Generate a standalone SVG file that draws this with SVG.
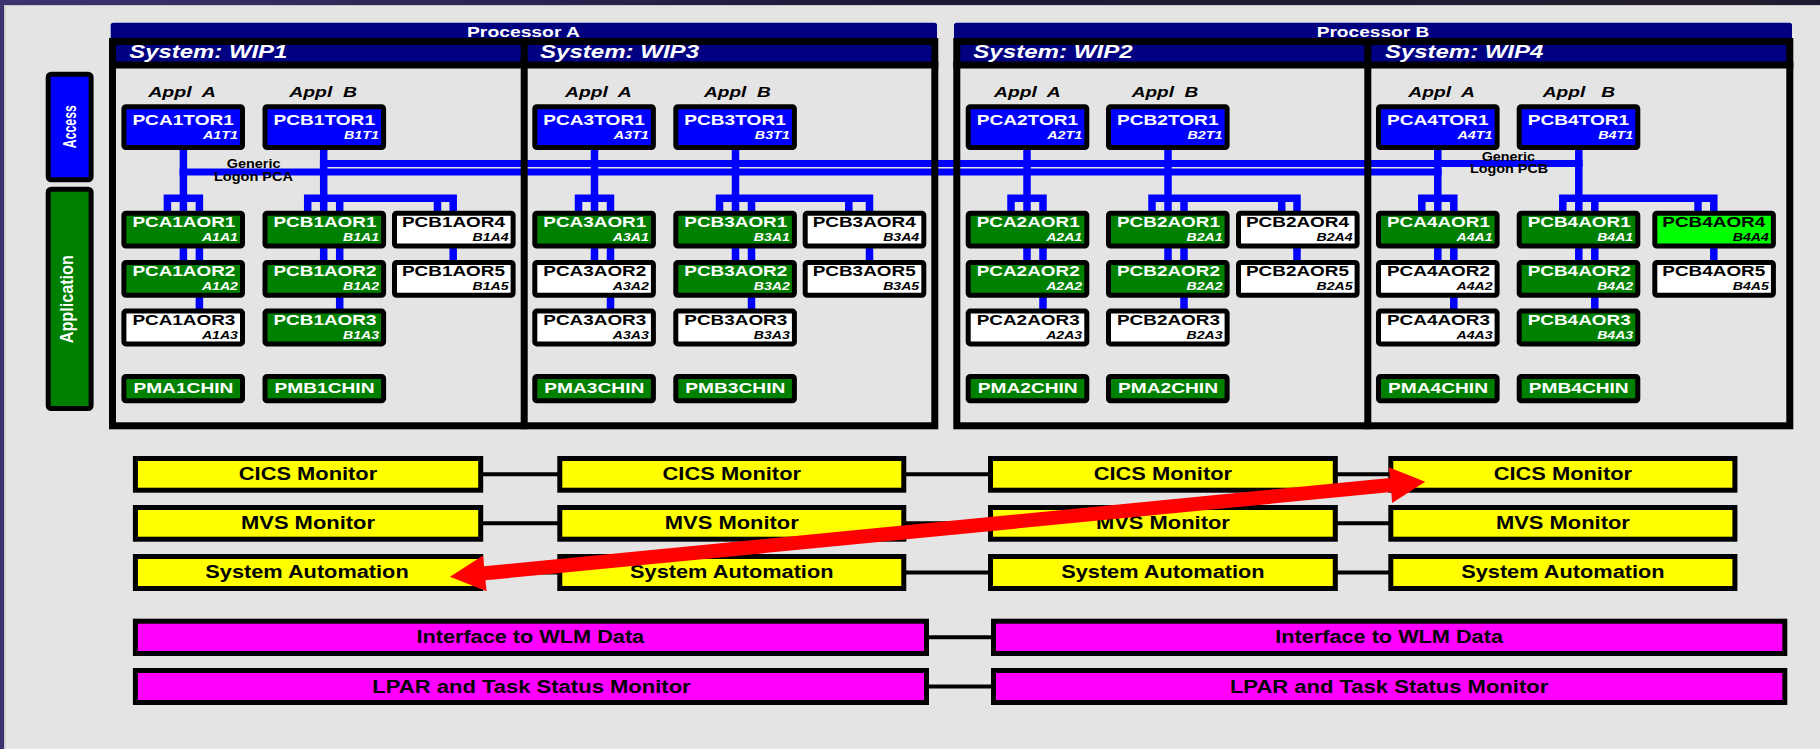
<svg xmlns="http://www.w3.org/2000/svg" width="1820" height="749" viewBox="0 0 1820 749">
  <defs>
    <linearGradient id="bgGrad" x1="0" y1="0" x2="1" y2="0">
      <stop offset="0" stop-color="#3b3470"/>
      <stop offset="0.5" stop-color="#1b1836"/>
      <stop offset="0.95" stop-color="#241d2e"/>
      <stop offset="1" stop-color="#1c1a30"/>
    </linearGradient>
    <style>
      .box{stroke:#000;stroke-width:5}
      .blue{fill:#0000FF}
      .green{fill:#008000}
      .white{fill:#FFFFFF}
      .lime{fill:#00FF00}
      .yellow{fill:#FFFF00}
      .magenta{fill:#FF00FF}
      .navy{fill:#000080}
      .t{font-family:"Liberation Sans",Arial,Helvetica,sans-serif;font-weight:bold}
      .nm{font-size:15px}
      .sub{font-size:11px;font-style:italic;text-anchor:end}
      .w{fill:#FFFFFF}
      .k{fill:#000000}
      .ttl{font-size:14px;fill:#FFFFFF}
      .sys{font-size:17.5px;font-style:italic;fill:#FFFFFF}
      .appl{font-size:14px;font-style:italic;fill:#000;white-space:pre}
      .gen{font-size:12px;fill:#000;text-anchor:middle}
      .mon{font-size:17.5px;fill:#000;text-anchor:middle}
      .bus{fill:none;stroke:#0000FF;stroke-width:7}
      .link{fill:none;stroke:#0000FF;stroke-width:7.5}
      .wire{fill:none;stroke:#000;stroke-width:4}
      .frame{fill:none;stroke:#000;stroke-width:7}
    </style>
  </defs>

  <!-- backdrop and panel -->
  <rect x="0" y="0" width="1820" height="749" fill="url(#bgGrad)"/>
  <rect x="4" y="5" width="1816" height="744" fill="#C8C8C8"/>
  <rect x="5.5" y="6" width="1814.5" height="743" fill="#E4E4E4"/>

  <!-- layer bars -->
  <g id="layer-access">
    <rect class="box blue" x="48.2" y="74.2" width="42.9" height="105.6" rx="3"/>
    <text class="t w" font-size="18" text-anchor="middle" transform="translate(75.7,126.7) rotate(-90)" textLength="43" lengthAdjust="spacingAndGlyphs">Access</text>
  </g>
  <g id="layer-application">
    <rect class="box green" x="48.2" y="189.2" width="42.9" height="219.3" rx="3"/>
    <text class="t w" font-size="19" text-anchor="middle" transform="translate(72.5,299.2) rotate(-90)" textLength="88" lengthAdjust="spacingAndGlyphs">Application</text>
  </g>

  <!-- processor title bars and system headers -->
  <g id="processor-a">
    <rect class="navy" x="110.7" y="22.7" width="826.3" height="22" rx="2.5"/>
    <text class="t ttl" x="467" y="37" textLength="113" lengthAdjust="spacingAndGlyphs">Processor A</text>
    <rect class="navy" x="112" y="44" width="822" height="18"/>
  </g>
  <g id="processor-b">
    <rect class="navy" x="954" y="22.7" width="838" height="22" rx="2.5"/>
    <text class="t ttl" x="1316.7" y="37" textLength="112.6" lengthAdjust="spacingAndGlyphs">Processor B</text>
    <rect class="navy" x="956" y="44" width="834" height="18"/>
  </g>

  <!-- blue links: logon buses and TOR to AOR fan-outs -->
  <g id="connectors">
    <path class="bus" d="M179.6 172.1 H1441.6"/>
    <path class="bus" d="M319.9 163.4 H1582.6"/>

    <path class="link" d="M183.4 150 V262 M167.4 213 V198.3 H199.4 V311"/>
    <path class="link" d="M323.7 150 V262 M307.7 213 V198.3 H453.2 V262 M339.7 198.3 V311 M437.5 198.3 V213"/>

    <path class="link" d="M594.5 150 V262 M578.5 213 V198.3 H610.5 V311"/>
    <path class="link" d="M735.5 150 V262 M719.5 213 V198.3 H869.5 V262 M751.5 198.3 V311 M848.8 198.3 V213"/>

    <path class="link" d="M1027 150 V262 M1011 213 V198.3 H1043 V311"/>
    <path class="link" d="M1168 150 V262 M1152 213 V198.3 H1297 V262 M1184 198.3 V311 M1281.7 198.3 V213"/>

    <path class="link" d="M1437.8 150 V262 M1421.8 213 V198.3 H1453.8 V311"/>
    <path class="link" d="M1578.8 150 V262 M1562.8 213 V198.3 H1713.8 V262 M1594.8 198.3 V311 M1698 198.3 V213"/>

    <!-- monitor links -->
    <path class="wire" d="M483 474.3 H558 M906 474.3 H989 M1337 474.3 H1389"/>
    <path class="wire" d="M483 523.3 H558 M906 523.3 H989 M1337 523.3 H1389"/>
    <path class="wire" d="M483 572.5 H558 M906 572.5 H989 M1337 572.5 H1389"/>
    <path class="wire" d="M929 637.3 H992 M929 686.5 H992"/>
  </g>

  <!-- system frames -->
  <g id="frames">
    <rect class="frame" x="112.5" y="41.5" width="822.3" height="384.3"/>
    <path class="frame" d="M524.2 38 V429.3 M109 65 H938.3"/>
    <rect class="frame" x="956.8" y="41.5" width="833" height="384.3"/>
    <path class="frame" d="M1367.8 38 V429.3 M953.3 65 H1793.3"/>
  </g>

  <!-- System WIP1 -->
  <g id="sys-wip1">
    <text class="t sys" x="129.3" y="58.4" textLength="158" lengthAdjust="spacingAndGlyphs">System: WIP1</text>
    <text class="t appl" x="148.2" y="96.5" textLength="67.8" lengthAdjust="spacingAndGlyphs">Appl  A</text>
    <text class="t appl" x="289.3" y="96.5" textLength="67.8" lengthAdjust="spacingAndGlyphs">Appl  B</text>
    <text class="t gen" x="253.6" y="168" textLength="53.6" lengthAdjust="spacingAndGlyphs">Generic</text>
    <text class="t gen" x="253.5" y="180.5" textLength="79" lengthAdjust="spacingAndGlyphs">Logon PCA</text>
  </g>
  <g id="PCA1TOR1"><rect class="box blue" x="123.9" y="106.8" width="118.6" height="40.7" rx="2"/><text class="t nm w" x="132.4" y="125" textLength="101.5" lengthAdjust="spacingAndGlyphs">PCA1TOR1</text><text class="t sub w" x="237.9" y="139" textLength="35" lengthAdjust="spacingAndGlyphs">A1T1</text></g>
  <g id="PCB1TOR1"><rect class="box blue" x="265" y="106.8" width="118.6" height="40.7" rx="2"/><text class="t nm w" x="273.5" y="125" textLength="101.5" lengthAdjust="spacingAndGlyphs">PCB1TOR1</text><text class="t sub w" x="379" y="139" textLength="35" lengthAdjust="spacingAndGlyphs">B1T1</text></g>
  <g id="PCA1AOR1"><rect class="box green" x="123.9" y="213.2" width="118.6" height="32.8" rx="2"/><text class="t nm w" x="132.4" y="226.7" textLength="103" lengthAdjust="spacingAndGlyphs">PCA1AOR1</text><text class="t sub w" x="237.9" y="241" textLength="36" lengthAdjust="spacingAndGlyphs">A1A1</text></g>
  <g id="PCB1AOR1"><rect class="box green" x="265" y="213.2" width="118.6" height="32.8" rx="2"/><text class="t nm w" x="273.5" y="226.7" textLength="103" lengthAdjust="spacingAndGlyphs">PCB1AOR1</text><text class="t sub w" x="379" y="241" textLength="36" lengthAdjust="spacingAndGlyphs">B1A1</text></g>
  <g id="PCB1AOR4"><rect class="box white" x="394.5" y="213.2" width="118.6" height="32.8" rx="2"/><text class="t nm k" x="402" y="226.7" textLength="103" lengthAdjust="spacingAndGlyphs">PCB1AOR4</text><text class="t sub k" x="508.5" y="241" textLength="36" lengthAdjust="spacingAndGlyphs">B1A4</text></g>
  <g id="PCA1AOR2"><rect class="box green" x="123.9" y="262.4" width="118.6" height="32.8" rx="2"/><text class="t nm w" x="132.4" y="275.9" textLength="103" lengthAdjust="spacingAndGlyphs">PCA1AOR2</text><text class="t sub w" x="237.9" y="290.2" textLength="36" lengthAdjust="spacingAndGlyphs">A1A2</text></g>
  <g id="PCB1AOR2"><rect class="box green" x="265" y="262.4" width="118.6" height="32.8" rx="2"/><text class="t nm w" x="273.5" y="275.9" textLength="103" lengthAdjust="spacingAndGlyphs">PCB1AOR2</text><text class="t sub w" x="379" y="290.2" textLength="36" lengthAdjust="spacingAndGlyphs">B1A2</text></g>
  <g id="PCB1AOR5"><rect class="box white" x="394.5" y="262.4" width="118.6" height="32.8" rx="2"/><text class="t nm k" x="402" y="275.9" textLength="103" lengthAdjust="spacingAndGlyphs">PCB1AOR5</text><text class="t sub k" x="508.5" y="290.2" textLength="36" lengthAdjust="spacingAndGlyphs">B1A5</text></g>
  <g id="PCA1AOR3"><rect class="box white" x="123.9" y="311.1" width="118.6" height="32.8" rx="2"/><text class="t nm k" x="132.4" y="324.6" textLength="103" lengthAdjust="spacingAndGlyphs">PCA1AOR3</text><text class="t sub k" x="237.9" y="338.9" textLength="36" lengthAdjust="spacingAndGlyphs">A1A3</text></g>
  <g id="PCB1AOR3"><rect class="box green" x="265" y="311.1" width="118.6" height="32.8" rx="2"/><text class="t nm w" x="273.5" y="324.6" textLength="103" lengthAdjust="spacingAndGlyphs">PCB1AOR3</text><text class="t sub w" x="379" y="338.9" textLength="36" lengthAdjust="spacingAndGlyphs">B1A3</text></g>
  <g id="PMA1CHIN"><rect class="box green" x="123.9" y="376.5" width="118.6" height="24.3" rx="2"/><text class="t nm w" x="133.4" y="393.3" textLength="100" lengthAdjust="spacingAndGlyphs">PMA1CHIN</text></g>
  <g id="PMB1CHIN"><rect class="box green" x="265" y="376.5" width="118.6" height="24.3" rx="2"/><text class="t nm w" x="274.5" y="393.3" textLength="100" lengthAdjust="spacingAndGlyphs">PMB1CHIN</text></g>

  <!-- System WIP3 -->
  <g id="sys-wip3">
    <text class="t sys" x="540" y="58.4" textLength="159" lengthAdjust="spacingAndGlyphs">System: WIP3</text>
    <text class="t appl" x="565" y="96.5" textLength="66.7" lengthAdjust="spacingAndGlyphs">Appl  A</text>
    <text class="t appl" x="704" y="96.5" textLength="66.7" lengthAdjust="spacingAndGlyphs">Appl  B</text>
  </g>
  <g id="PCA3TOR1"><rect class="box blue" x="534.8" y="106.8" width="118.6" height="40.7" rx="2"/><text class="t nm w" x="543.3" y="125" textLength="101.5" lengthAdjust="spacingAndGlyphs">PCA3TOR1</text><text class="t sub w" x="648.8" y="139" textLength="35" lengthAdjust="spacingAndGlyphs">A3T1</text></g>
  <g id="PCB3TOR1"><rect class="box blue" x="675.8" y="106.8" width="118.6" height="40.7" rx="2"/><text class="t nm w" x="684.3" y="125" textLength="101.5" lengthAdjust="spacingAndGlyphs">PCB3TOR1</text><text class="t sub w" x="789.8" y="139" textLength="35" lengthAdjust="spacingAndGlyphs">B3T1</text></g>
  <g id="PCA3AOR1"><rect class="box green" x="534.8" y="213.2" width="118.6" height="32.8" rx="2"/><text class="t nm w" x="543.3" y="226.7" textLength="103" lengthAdjust="spacingAndGlyphs">PCA3AOR1</text><text class="t sub w" x="648.8" y="241" textLength="36" lengthAdjust="spacingAndGlyphs">A3A1</text></g>
  <g id="PCB3AOR1"><rect class="box green" x="675.8" y="213.2" width="118.6" height="32.8" rx="2"/><text class="t nm w" x="684.3" y="226.7" textLength="103" lengthAdjust="spacingAndGlyphs">PCB3AOR1</text><text class="t sub w" x="789.8" y="241" textLength="36" lengthAdjust="spacingAndGlyphs">B3A1</text></g>
  <g id="PCB3AOR4"><rect class="box white" x="805.2" y="213.2" width="118.6" height="32.8" rx="2"/><text class="t nm k" x="812.7" y="226.7" textLength="103" lengthAdjust="spacingAndGlyphs">PCB3AOR4</text><text class="t sub k" x="919.2" y="241" textLength="36" lengthAdjust="spacingAndGlyphs">B3A4</text></g>
  <g id="PCA3AOR2"><rect class="box white" x="534.8" y="262.4" width="118.6" height="32.8" rx="2"/><text class="t nm k" x="543.3" y="275.9" textLength="103" lengthAdjust="spacingAndGlyphs">PCA3AOR2</text><text class="t sub k" x="648.8" y="290.2" textLength="36" lengthAdjust="spacingAndGlyphs">A3A2</text></g>
  <g id="PCB3AOR2"><rect class="box green" x="675.8" y="262.4" width="118.6" height="32.8" rx="2"/><text class="t nm w" x="684.3" y="275.9" textLength="103" lengthAdjust="spacingAndGlyphs">PCB3AOR2</text><text class="t sub w" x="789.8" y="290.2" textLength="36" lengthAdjust="spacingAndGlyphs">B3A2</text></g>
  <g id="PCB3AOR5"><rect class="box white" x="805.2" y="262.4" width="118.6" height="32.8" rx="2"/><text class="t nm k" x="812.7" y="275.9" textLength="103" lengthAdjust="spacingAndGlyphs">PCB3AOR5</text><text class="t sub k" x="919.2" y="290.2" textLength="36" lengthAdjust="spacingAndGlyphs">B3A5</text></g>
  <g id="PCA3AOR3"><rect class="box white" x="534.8" y="311.1" width="118.6" height="32.8" rx="2"/><text class="t nm k" x="543.3" y="324.6" textLength="103" lengthAdjust="spacingAndGlyphs">PCA3AOR3</text><text class="t sub k" x="648.8" y="338.9" textLength="36" lengthAdjust="spacingAndGlyphs">A3A3</text></g>
  <g id="PCB3AOR3"><rect class="box white" x="675.8" y="311.1" width="118.6" height="32.8" rx="2"/><text class="t nm k" x="684.3" y="324.6" textLength="103" lengthAdjust="spacingAndGlyphs">PCB3AOR3</text><text class="t sub k" x="789.8" y="338.9" textLength="36" lengthAdjust="spacingAndGlyphs">B3A3</text></g>
  <g id="PMA3CHIN"><rect class="box green" x="534.8" y="376.5" width="118.6" height="24.3" rx="2"/><text class="t nm w" x="544.3" y="393.3" textLength="100" lengthAdjust="spacingAndGlyphs">PMA3CHIN</text></g>
  <g id="PMB3CHIN"><rect class="box green" x="675.8" y="376.5" width="118.6" height="24.3" rx="2"/><text class="t nm w" x="685.3" y="393.3" textLength="100" lengthAdjust="spacingAndGlyphs">PMB3CHIN</text></g>

  <!-- System WIP2 -->
  <g id="sys-wip2">
    <text class="t sys" x="973.3" y="58.4" textLength="159.4" lengthAdjust="spacingAndGlyphs">System: WIP2</text>
    <text class="t appl" x="994" y="96.5" textLength="66.7" lengthAdjust="spacingAndGlyphs">Appl  A</text>
    <text class="t appl" x="1131.7" y="96.5" textLength="66.6" lengthAdjust="spacingAndGlyphs">Appl  B</text>
  </g>
  <g id="PCA2TOR1"><rect class="box blue" x="968.2" y="106.8" width="118.6" height="40.7" rx="2"/><text class="t nm w" x="976.7" y="125" textLength="101.5" lengthAdjust="spacingAndGlyphs">PCA2TOR1</text><text class="t sub w" x="1082.2" y="139" textLength="35" lengthAdjust="spacingAndGlyphs">A2T1</text></g>
  <g id="PCB2TOR1"><rect class="box blue" x="1108.5" y="106.8" width="118.6" height="40.7" rx="2"/><text class="t nm w" x="1117" y="125" textLength="101.5" lengthAdjust="spacingAndGlyphs">PCB2TOR1</text><text class="t sub w" x="1222.5" y="139" textLength="35" lengthAdjust="spacingAndGlyphs">B2T1</text></g>
  <g id="PCA2AOR1"><rect class="box green" x="968.2" y="213.2" width="118.6" height="32.8" rx="2"/><text class="t nm w" x="976.7" y="226.7" textLength="103" lengthAdjust="spacingAndGlyphs">PCA2AOR1</text><text class="t sub w" x="1082.2" y="241" textLength="36" lengthAdjust="spacingAndGlyphs">A2A1</text></g>
  <g id="PCB2AOR1"><rect class="box green" x="1108.5" y="213.2" width="118.6" height="32.8" rx="2"/><text class="t nm w" x="1117" y="226.7" textLength="103" lengthAdjust="spacingAndGlyphs">PCB2AOR1</text><text class="t sub w" x="1222.5" y="241" textLength="36" lengthAdjust="spacingAndGlyphs">B2A1</text></g>
  <g id="PCB2AOR4"><rect class="box white" x="1238.5" y="213.2" width="118.6" height="32.8" rx="2"/><text class="t nm k" x="1246" y="226.7" textLength="103" lengthAdjust="spacingAndGlyphs">PCB2AOR4</text><text class="t sub k" x="1352.5" y="241" textLength="36" lengthAdjust="spacingAndGlyphs">B2A4</text></g>
  <g id="PCA2AOR2"><rect class="box green" x="968.2" y="262.4" width="118.6" height="32.8" rx="2"/><text class="t nm w" x="976.7" y="275.9" textLength="103" lengthAdjust="spacingAndGlyphs">PCA2AOR2</text><text class="t sub w" x="1082.2" y="290.2" textLength="36" lengthAdjust="spacingAndGlyphs">A2A2</text></g>
  <g id="PCB2AOR2"><rect class="box green" x="1108.5" y="262.4" width="118.6" height="32.8" rx="2"/><text class="t nm w" x="1117" y="275.9" textLength="103" lengthAdjust="spacingAndGlyphs">PCB2AOR2</text><text class="t sub w" x="1222.5" y="290.2" textLength="36" lengthAdjust="spacingAndGlyphs">B2A2</text></g>
  <g id="PCB2AOR5"><rect class="box white" x="1238.5" y="262.4" width="118.6" height="32.8" rx="2"/><text class="t nm k" x="1246" y="275.9" textLength="103" lengthAdjust="spacingAndGlyphs">PCB2AOR5</text><text class="t sub k" x="1352.5" y="290.2" textLength="36" lengthAdjust="spacingAndGlyphs">B2A5</text></g>
  <g id="PCA2AOR3"><rect class="box white" x="968.2" y="311.1" width="118.6" height="32.8" rx="2"/><text class="t nm k" x="976.7" y="324.6" textLength="103" lengthAdjust="spacingAndGlyphs">PCA2AOR3</text><text class="t sub k" x="1082.2" y="338.9" textLength="36" lengthAdjust="spacingAndGlyphs">A2A3</text></g>
  <g id="PCB2AOR3"><rect class="box white" x="1108.5" y="311.1" width="118.6" height="32.8" rx="2"/><text class="t nm k" x="1117" y="324.6" textLength="103" lengthAdjust="spacingAndGlyphs">PCB2AOR3</text><text class="t sub k" x="1222.5" y="338.9" textLength="36" lengthAdjust="spacingAndGlyphs">B2A3</text></g>
  <g id="PMA2CHIN-a"><rect class="box green" x="968.2" y="376.5" width="118.6" height="24.3" rx="2"/><text class="t nm w" x="977.7" y="393.3" textLength="100" lengthAdjust="spacingAndGlyphs">PMA2CHIN</text></g>
  <g id="PMA2CHIN-b"><rect class="box green" x="1108.5" y="376.5" width="118.6" height="24.3" rx="2"/><text class="t nm w" x="1118" y="393.3" textLength="100" lengthAdjust="spacingAndGlyphs">PMA2CHIN</text></g>

  <!-- System WIP4 -->
  <g id="sys-wip4">
    <text class="t sys" x="1385" y="58.4" textLength="158.3" lengthAdjust="spacingAndGlyphs">System: WIP4</text>
    <text class="t appl" x="1408.3" y="96.5" textLength="66.7" lengthAdjust="spacingAndGlyphs">Appl  A</text>
    <text class="t appl" x="1542.7" y="96.5" textLength="72.3" lengthAdjust="spacingAndGlyphs">Appl   B</text>
    <text class="t gen" x="1508.3" y="160.5" textLength="53.3" lengthAdjust="spacingAndGlyphs">Generic</text>
    <text class="t gen" x="1509.1" y="173" textLength="78.3" lengthAdjust="spacingAndGlyphs">Logon PCB</text>
  </g>
  <g id="PCA4TOR1"><rect class="box blue" x="1378.5" y="106.8" width="118.6" height="40.7" rx="2"/><text class="t nm w" x="1387" y="125" textLength="101.5" lengthAdjust="spacingAndGlyphs">PCA4TOR1</text><text class="t sub w" x="1492.5" y="139" textLength="35" lengthAdjust="spacingAndGlyphs">A4T1</text></g>
  <g id="PCB4TOR1"><rect class="box blue" x="1519.2" y="106.8" width="118.6" height="40.7" rx="2"/><text class="t nm w" x="1527.7" y="125" textLength="101.5" lengthAdjust="spacingAndGlyphs">PCB4TOR1</text><text class="t sub w" x="1633.2" y="139" textLength="35" lengthAdjust="spacingAndGlyphs">B4T1</text></g>
  <g id="PCA4AOR1"><rect class="box green" x="1378.5" y="213.2" width="118.6" height="32.8" rx="2"/><text class="t nm w" x="1387" y="226.7" textLength="103" lengthAdjust="spacingAndGlyphs">PCA4AOR1</text><text class="t sub w" x="1492.5" y="241" textLength="36" lengthAdjust="spacingAndGlyphs">A4A1</text></g>
  <g id="PCB4AOR1"><rect class="box green" x="1519.2" y="213.2" width="118.6" height="32.8" rx="2"/><text class="t nm w" x="1527.7" y="226.7" textLength="103" lengthAdjust="spacingAndGlyphs">PCB4AOR1</text><text class="t sub w" x="1633.2" y="241" textLength="36" lengthAdjust="spacingAndGlyphs">B4A1</text></g>
  <g id="PCB4AOR4"><rect class="box lime" x="1654.8" y="213.2" width="118.6" height="32.8" rx="2"/><text class="t nm k" x="1662.3" y="226.7" textLength="103" lengthAdjust="spacingAndGlyphs">PCB4AOR4</text><text class="t sub k" x="1768.8" y="241" textLength="36" lengthAdjust="spacingAndGlyphs">B4A4</text></g>
  <g id="PCA4AOR2"><rect class="box white" x="1378.5" y="262.4" width="118.6" height="32.8" rx="2"/><text class="t nm k" x="1387" y="275.9" textLength="103" lengthAdjust="spacingAndGlyphs">PCA4AOR2</text><text class="t sub k" x="1492.5" y="290.2" textLength="36" lengthAdjust="spacingAndGlyphs">A4A2</text></g>
  <g id="PCB4AOR2"><rect class="box green" x="1519.2" y="262.4" width="118.6" height="32.8" rx="2"/><text class="t nm w" x="1527.7" y="275.9" textLength="103" lengthAdjust="spacingAndGlyphs">PCB4AOR2</text><text class="t sub w" x="1633.2" y="290.2" textLength="36" lengthAdjust="spacingAndGlyphs">B4A2</text></g>
  <g id="PCB4AOR5"><rect class="box white" x="1654.8" y="262.4" width="118.6" height="32.8" rx="2"/><text class="t nm k" x="1662.3" y="275.9" textLength="103" lengthAdjust="spacingAndGlyphs">PCB4AOR5</text><text class="t sub k" x="1768.8" y="290.2" textLength="36" lengthAdjust="spacingAndGlyphs">B4A5</text></g>
  <g id="PCA4AOR3"><rect class="box white" x="1378.5" y="311.1" width="118.6" height="32.8" rx="2"/><text class="t nm k" x="1387" y="324.6" textLength="103" lengthAdjust="spacingAndGlyphs">PCA4AOR3</text><text class="t sub k" x="1492.5" y="338.9" textLength="36" lengthAdjust="spacingAndGlyphs">A4A3</text></g>
  <g id="PCB4AOR3"><rect class="box green" x="1519.2" y="311.1" width="118.6" height="32.8" rx="2"/><text class="t nm w" x="1527.7" y="324.6" textLength="103" lengthAdjust="spacingAndGlyphs">PCB4AOR3</text><text class="t sub w" x="1633.2" y="338.9" textLength="36" lengthAdjust="spacingAndGlyphs">B4A3</text></g>
  <g id="PMA4CHIN"><rect class="box green" x="1378.5" y="376.5" width="118.6" height="24.3" rx="2"/><text class="t nm w" x="1388" y="393.3" textLength="100" lengthAdjust="spacingAndGlyphs">PMA4CHIN</text></g>
  <g id="PMB4CHIN"><rect class="box green" x="1519.2" y="376.5" width="118.6" height="24.3" rx="2"/><text class="t nm w" x="1528.7" y="393.3" textLength="100" lengthAdjust="spacingAndGlyphs">PMB4CHIN</text></g>

  <!-- monitoring layer -->
  <g id="cics-1"><rect class="box yellow" x="135.4" y="458.5" width="345.3" height="31.7"/><text class="t mon" x="308" y="480" textLength="138.4" lengthAdjust="spacingAndGlyphs">CICS Monitor</text></g>
  <g id="cics-2"><rect class="box yellow" x="559.8" y="458.5" width="344" height="31.7"/><text class="t mon" x="731.8" y="480" textLength="138.4" lengthAdjust="spacingAndGlyphs">CICS Monitor</text></g>
  <g id="cics-3"><rect class="box yellow" x="990.5" y="458.5" width="344.8" height="31.7"/><text class="t mon" x="1162.9" y="480" textLength="138.4" lengthAdjust="spacingAndGlyphs">CICS Monitor</text></g>
  <g id="cics-4"><rect class="box yellow" x="1390.8" y="458.5" width="344.1" height="31.7"/><text class="t mon" x="1562.9" y="480" textLength="138.4" lengthAdjust="spacingAndGlyphs">CICS Monitor</text></g>

  <g id="mvs-1"><rect class="box yellow" x="135.4" y="507.5" width="345.3" height="31.7"/><text class="t mon" x="308" y="529" textLength="134" lengthAdjust="spacingAndGlyphs">MVS Monitor</text></g>
  <g id="mvs-2"><rect class="box yellow" x="559.8" y="507.5" width="344" height="31.7"/><text class="t mon" x="731.8" y="529" textLength="134" lengthAdjust="spacingAndGlyphs">MVS Monitor</text></g>
  <g id="mvs-3"><rect class="box yellow" x="990.5" y="507.5" width="344.8" height="31.7"/><text class="t mon" x="1162.9" y="529" textLength="134" lengthAdjust="spacingAndGlyphs">MVS Monitor</text></g>
  <g id="mvs-4"><rect class="box yellow" x="1390.8" y="507.5" width="344.1" height="31.7"/><text class="t mon" x="1562.9" y="529" textLength="134" lengthAdjust="spacingAndGlyphs">MVS Monitor</text></g>

  <g id="sa-1"><rect class="box yellow" x="135.4" y="556.5" width="345.3" height="32"/><text class="t mon" x="307" y="578" textLength="203.4" lengthAdjust="spacingAndGlyphs">System Automation</text></g>
  <g id="sa-2"><rect class="box yellow" x="559.8" y="556.5" width="344" height="32"/><text class="t mon" x="731.8" y="578" textLength="203.4" lengthAdjust="spacingAndGlyphs">System Automation</text></g>
  <g id="sa-3"><rect class="box yellow" x="990.5" y="556.5" width="344.8" height="32"/><text class="t mon" x="1162.9" y="578" textLength="203.4" lengthAdjust="spacingAndGlyphs">System Automation</text></g>
  <g id="sa-4"><rect class="box yellow" x="1390.8" y="556.5" width="344.1" height="32"/><text class="t mon" x="1562.9" y="578" textLength="203.4" lengthAdjust="spacingAndGlyphs">System Automation</text></g>

  <g id="wlm-1"><rect class="box magenta" x="135.4" y="621.2" width="791.1" height="32.3"/><text class="t mon" x="530.3" y="643" textLength="227.8" lengthAdjust="spacingAndGlyphs">Interface to WLM Data</text></g>
  <g id="wlm-2"><rect class="box magenta" x="993.5" y="621.2" width="791.3" height="32.3"/><text class="t mon" x="1389.1" y="643" textLength="227.8" lengthAdjust="spacingAndGlyphs">Interface to WLM Data</text></g>
  <g id="lpar-1"><rect class="box magenta" x="135.4" y="670.5" width="791.1" height="32"/><text class="t mon" x="531.5" y="692.5" textLength="318.4" lengthAdjust="spacingAndGlyphs">LPAR and Task Status Monitor</text></g>
  <g id="lpar-2"><rect class="box magenta" x="993.5" y="670.5" width="791.3" height="32"/><text class="t mon" x="1389.1" y="692.5" textLength="318.4" lengthAdjust="spacingAndGlyphs">LPAR and Task Status Monitor</text></g>

  <!-- double-headed red arrow across the monitor grid -->
  <g id="arrow-overlay">
    <polygon fill="#FF0000" points="450,576.7 483.1,555.4 484.1,566.3 1389.9,478.1 1388.7,467.2 1425.2,481.7 1392.1,503 1391.3,492.0 485.5,580.3 486.6,591.2"/>
  </g>
</svg>
